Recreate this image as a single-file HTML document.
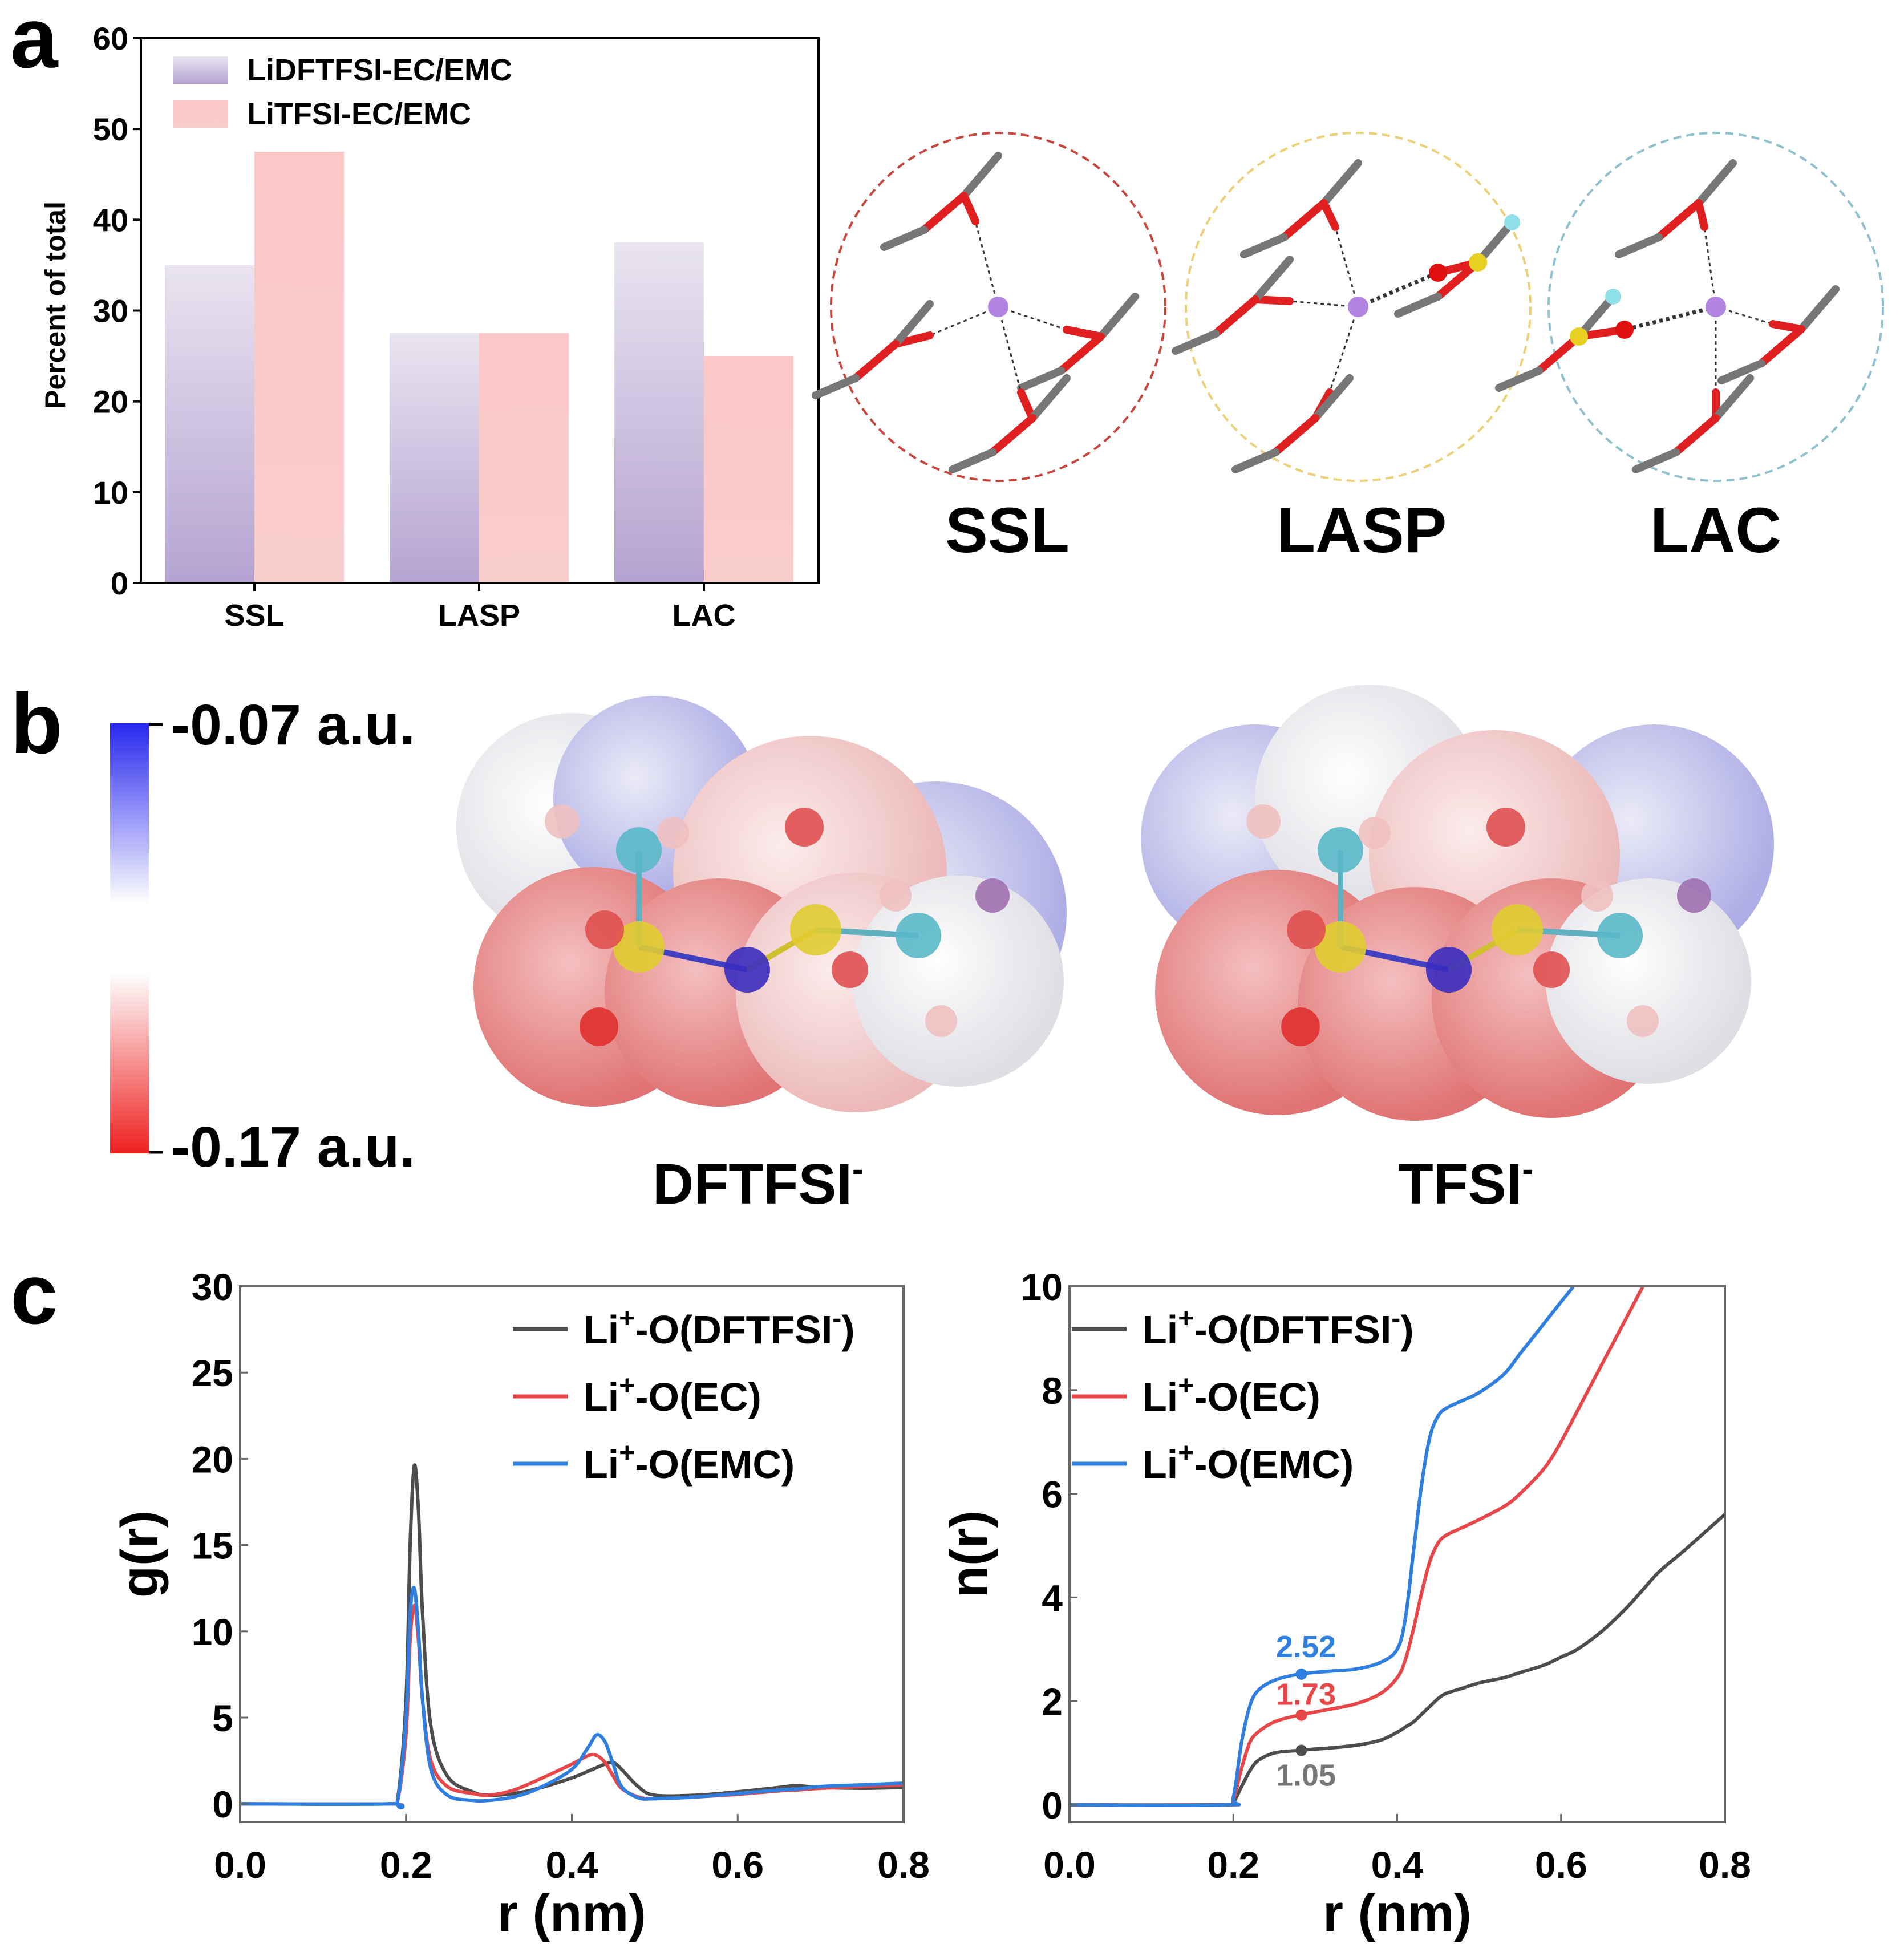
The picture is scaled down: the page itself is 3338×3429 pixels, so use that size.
<!DOCTYPE html>
<html><head><meta charset="utf-8"><style>
html,body{margin:0;padding:0;background:#fff}
svg{display:block}
text{font-family:"Liberation Sans",sans-serif;font-weight:bold}
</style></head><body>
<svg id="fig" width="3338" height="3429" viewBox="0 0 3338 3429" xmlns="http://www.w3.org/2000/svg">
<defs>
<linearGradient id="gPur" x1="0" y1="0" x2="0" y2="1"><stop offset="0" stop-color="#e9e4f0"/><stop offset="1" stop-color="#b4a3d1"/></linearGradient>
<linearGradient id="gPink" x1="0" y1="0" x2="0" y2="1"><stop offset="0" stop-color="#fbc7c7"/><stop offset="1" stop-color="#f9cccc"/></linearGradient>
<linearGradient id="gCbar" x1="0" y1="0" x2="0" y2="1"><stop offset="0" stop-color="#2828f0"/><stop offset="0.42" stop-color="#ffffff"/><stop offset="0.58" stop-color="#ffffff"/><stop offset="1" stop-color="#f02020"/></linearGradient>
<radialGradient id="sRed" cx="0.4" cy="0.4" r="0.6"><stop offset="0" stop-color="#f2b0b0"/><stop offset="1" stop-color="#d85050"/></radialGradient>
<radialGradient id="sPinkS" cx="0.4" cy="0.4" r="0.6"><stop offset="0" stop-color="#fbe8e8"/><stop offset="1" stop-color="#e8a8a8"/></radialGradient>
<radialGradient id="sWhite" cx="0.4" cy="0.4" r="0.6"><stop offset="0" stop-color="#ffffff"/><stop offset="1" stop-color="#d6d6de"/></radialGradient>
<radialGradient id="sBlue" cx="0.4" cy="0.4" r="0.6"><stop offset="0" stop-color="#e6e6f6"/><stop offset="1" stop-color="#9a9ae0"/></radialGradient>
</defs>

<!-- Panel a -->
<text x="18" y="118" font-size="150">a</text>
<g id="barChart"></g>

<!-- solvation circles -->
<g>
 <ellipse cx="1750" cy="538" rx="293" ry="305" fill="none" stroke="#c8453c" stroke-width="4" stroke-dasharray="14 9"/>
 <ellipse cx="2381" cy="538" rx="302" ry="305" fill="none" stroke="#ecd07a" stroke-width="4" stroke-dasharray="14 9"/>
 <ellipse cx="3008" cy="538" rx="293" ry="305" fill="none" stroke="#8fc0cf" stroke-width="4" stroke-dasharray="14 9"/>
 <g id="mols"></g>
 <text x="1766" y="968" font-size="112" text-anchor="middle">SSL</text>
 <text x="2387" y="968" font-size="112" text-anchor="middle">LASP</text>
 <text x="3008" y="968" font-size="112" text-anchor="middle">LAC</text>
</g>

<!-- Panel b -->
<text x="18" y="1320" font-size="150">b</text>
<g>
 <rect x="193" y="1268" width="68" height="754" fill="url(#gCbar)"/>
 <line x1="261" y1="1270" x2="285" y2="1270" stroke="#000" stroke-width="5"/>
 <line x1="261" y1="2020" x2="285" y2="2020" stroke="#000" stroke-width="5"/>
 <text x="300" y="1305" font-size="100">-0.07 a.u.</text>
 <text x="300" y="2045" font-size="100">-0.17 a.u.</text>
</g>
<g opacity="0.8">
 <circle cx="1000" cy="1450" r="200" fill="url(#sWhite)"/>
 <circle cx="1150" cy="1400" r="180" fill="url(#sBlue)"/>
 <circle cx="1640" cy="1600" r="230" fill="url(#sBlue)"/>
 <circle cx="1420" cy="1530" r="240" fill="url(#sPinkS)"/>
 <circle cx="1040" cy="1730" r="210" fill="url(#sRed)"/>
 <circle cx="1260" cy="1740" r="200" fill="url(#sRed)"/>
 <circle cx="1500" cy="1740" r="210" fill="url(#sPinkS)"/>
 <circle cx="1680" cy="1720" r="185" fill="url(#sWhite)"/>
</g>
<g opacity="0.8">
 <circle cx="2200" cy="1470" r="200" fill="url(#sBlue)"/>
 <circle cx="2400" cy="1400" r="200" fill="url(#sWhite)"/>
 <circle cx="2900" cy="1480" r="210" fill="url(#sBlue)"/>
 <circle cx="2620" cy="1500" r="220" fill="url(#sPinkS)"/>
 <circle cx="2240" cy="1740" r="215" fill="url(#sRed)"/>
 <circle cx="2480" cy="1760" r="205" fill="url(#sRed)"/>
 <circle cx="2720" cy="1750" r="210" fill="url(#sRed)"/>
 <circle cx="2890" cy="1720" r="180" fill="url(#sWhite)"/>
</g>
<g id="atomsB"></g>
<text x="1329" y="2110" font-size="100" text-anchor="middle">DFTFSI<tspan font-size="60" dy="-40">-</tspan></text>
<text x="2570" y="2110" font-size="100" text-anchor="middle">TFSI<tspan font-size="60" dy="-40">-</tspan></text>

<!-- Panel c -->
<text x="18" y="2320" font-size="150">c</text>
<g id="gChart"></g>
<g id="nChart"></g>
</svg>
<script>
// ---------- Panel a data ----------
const barCategories = ["SSL","LASP","LAC"];
const lidftfsiValues = [35, 27.5, 37.5];
const litfsiValues = [47.5, 27.5, 25];
const barTicks = [0,10,20,30,40,50,60];

// ---------- Panel c data ----------
const gR_r   = [0,0.18,0.19,0.2,0.205,0.21,0.215,0.22,0.23,0.25,0.28,0.3,0.33,0.36,0.4,0.42,0.43,0.44,0.45,0.46,0.48,0.5,0.55,0.6,0.65,0.67,0.7,0.75,0.8];
const gDFT   = [0,0,0.3,6,15,19.6,17,11,4.5,1.6,0.7,0.5,0.6,0.9,1.5,1.9,2.1,2.3,2.4,2.0,1.0,0.5,0.5,0.7,0.95,1.05,0.95,0.9,0.95];
const gEC    = [0,0,0.2,4,9.5,11.5,9.5,6,2.5,1.0,0.6,0.5,0.8,1.4,2.3,2.8,2.8,2.4,1.6,0.9,0.4,0.3,0.4,0.55,0.75,0.8,0.9,1.0,1.1];
const gEMC   = [0,0,0.2,5,11,12.5,10,6,2.0,0.5,0.2,0.2,0.4,0.9,2.0,3.3,4.0,3.6,2.3,1.0,0.35,0.3,0.4,0.6,0.8,0.85,1.0,1.1,1.2];

const nR_r   = [0,0.19,0.2,0.21,0.22,0.23,0.25,0.28,0.32,0.35,0.38,0.4,0.41,0.42,0.43,0.44,0.45,0.46,0.48,0.5,0.53,0.55,0.58,0.6,0.62,0.65,0.68,0.7,0.72,0.75,0.8];
const nDFT   = [0,0,0.05,0.35,0.65,0.85,1.0,1.05,1.1,1.15,1.25,1.4,1.5,1.6,1.75,1.9,2.05,2.15,2.25,2.35,2.45,2.55,2.7,2.85,3.0,3.35,3.8,4.15,4.5,4.9,5.6];
const nEC    = [0,0,0.1,0.7,1.2,1.4,1.6,1.73,1.85,1.95,2.15,2.45,2.8,3.4,4.1,4.7,5.05,5.2,5.35,5.5,5.75,6.0,6.5,7.0,7.6,8.5,9.4,10.0,10.6,11.5,13];
const nEMC   = [0,0,0.15,1.2,1.9,2.2,2.4,2.52,2.58,2.62,2.75,3.0,3.6,4.9,6.2,7.1,7.5,7.65,7.8,7.95,8.3,8.7,9.3,9.7,10.1,10.8,11.5,12,12.5,13,14];

const xTicks = [0,0.2,0.4,0.6,0.8];
const xTickLabels = ["0.0","0.2","0.4","0.6","0.8"];
const gTicks = [0,5,10,15,20,25,30];
const nTicks = [0,2,4,6,8,10];
const legendLabels = ["O(DFTFSI","O(EC)","O(EMC)"];
const seriesColors = ["#4d4d4d","#e8474a","#2f7fe0"];
const annotValues = [1.05,1.73,2.52];
const annotR = 0.283;

const NS="http://www.w3.org/2000/svg";
function mk(tag, attrs, parent){const e=document.createElementNS(NS,tag);for(const k in attrs)e.setAttribute(k,attrs[k]);(parent||document.getElementById('fig')).appendChild(e);return e;}

// ---------- Bar chart ----------
(function(){
 const g=document.getElementById('barChart');
 const L=247,R=1435,T=67,B=1022;
 const y=v=>B-(v/60)*(B-T);
 const cx=i=>446+i*394;
 const bw=157;
 barCategories.forEach((c,i)=>{
  const b1=mk('rect',{x:cx(i)-bw,y:y(lidftfsiValues[i]),width:bw,height:B-y(lidftfsiValues[i]),fill:'url(#gPur)'},g);
  
  
  const b2=mk('rect',{x:cx(i),y:y(litfsiValues[i]),width:bw,height:B-y(litfsiValues[i]),fill:'url(#gPink)'},g);
  
  
  mk('line',{x1:cx(i),y1:B,x2:cx(i),y2:B+14,stroke:'#000','stroke-width':4},g);
  const t=mk('text',{x:cx(i),y:B+75,'font-size':54,'text-anchor':'middle'},g);
  t.textContent=c;
  
  
 });
 const fr=mk('rect',{x:L,y:T,width:R-L,height:B-T,fill:'none',stroke:'#000','stroke-width':4},g);
 
 
 barTicks.forEach(v=>{
  mk('line',{x1:L-14,y1:y(v),x2:L,y2:y(v),stroke:'#000','stroke-width':4},g);
  const t=mk('text',{x:L-22,y:y(v)+20,'font-size':56,'text-anchor':'end'},g);
  t.textContent=v;
  
  
 });
 const yt=mk('text',{x:0,y:0,'font-size':50,'text-anchor':'middle',transform:'translate(114,535) rotate(-90)'},g);
 yt.textContent='Percent of total';
 
 
 [['url(#gPur)','LiDFTFSI-EC/EMC',99],['url(#gPink)','LiTFSI-EC/EMC',176]].forEach((d,i)=>{
  const s=mk('rect',{x:304,y:d[2],width:96,height:48,fill:d[0]},g);
  
  
  const t=mk('text',{x:433,y:d[2]+42,'font-size':54},g);
  t.textContent=d[1];
  
  
 });
})();

// ---------- Molecule sketches (panel a) ----------
(function(){
 const g=document.getElementById('mols');
 function stick(x1,y1,x2,y2,c){mk('line',{x1,y1,x2,y2,stroke:c||'#777','stroke-width':14,'stroke-linecap':'round'},g);}
 function atom(x,y,r,c){mk('circle',{cx:x,cy:y,r,fill:c},g);}
 function dash(x1,y1,x2,y2,w){mk('line',{x1,y1,x2,y2,stroke:'#333','stroke-width':w||3,'stroke-dasharray':'6 6'},g);}
 const centers=[[1750,538],[2381,538],[3008,538]];
 const arms=[[[-40,-150],[120,40],[40,150],[-120,50]],[[-40,-140],[-120,-10],[-50,150],[140,-60]],[[-20,-140],[-160,40],[100,30],[0,150]]];
 centers.forEach((c,k)=>{
  arms[k].forEach((a,j)=>{
   const ex=c[0]+a[0],ey=c[1]+a[1];
   dash(c[0],c[1],ex,ey,(k>0&&j===(k===1?3:1))?7:3);
   stick(ex,ey,ex+a[0]*0.5,ey+a[1]*0.3,'#e02020');
   stick(ex+a[0]*0.5,ey+a[1]*0.3,ex+a[0]*0.5+60,ey+a[1]*0.3-70);
   stick(ex+a[0]*0.5,ey+a[1]*0.3,ex+a[0]*0.5-70,ey+a[1]*0.3+60,'#e02020');
   stick(ex+a[0]*0.5-70,ey+a[1]*0.3+60,ex+a[0]*0.5-140,ey+a[1]*0.3+90);
   if(k>0&&j===(k===1?3:1)){atom(ex,ey,16,'#e01010');atom(ex+a[0]*0.5,ey+a[1]*0.3,16,'#e8d020');atom(ex+a[0]*0.5+60,ey+a[1]*0.3-70,14,'#8fe0e8');}
  });
  atom(c[0],c[1],18,'#b084e0');
 });
})();

// ---------- ESP atoms (panel b) ----------
(function(){
 const g=document.getElementById('atomsB');
 function a(x,y,r,c){mk('circle',{cx:x,cy:y,r,fill:c,opacity:0.9},g);}
 function s(x1,y1,x2,y2,c){mk('line',{x1,y1,x2,y2,stroke:c,'stroke-width':10},g);}
 [[0,'d'],[1230,'t']].forEach(([dx])=>{
  s(1120+dx,1660,1310+dx,1700,'#4040c0');s(1310+dx,1700,1430+dx,1630,'#d0c030');
  s(1120+dx,1660,1120+dx,1490,'#60b0c0');s(1430+dx,1630,1610+dx,1640,'#60b0c0');
  a(1120+dx,1490,40,'#5ab8c8');a(1610+dx,1640,40,'#5ab8c8');
  a(1120+dx,1660,45,'#e0cc30');a(1430+dx,1630,45,'#e0cc30');
  a(1310+dx,1700,40,'#3a2cc0');
  a(1050+dx,1800,34,'#e03030');a(1060+dx,1630,34,'#e05050');a(1410+dx,1450,34,'#e05050');a(1490+dx,1700,32,'#e05050');
  a(985+dx,1440,30,'#f0c0c0');a(1180+dx,1460,28,'#f0c0c0');a(1570+dx,1570,28,'#f0c0c0');a(1650+dx,1790,28,'#f0c0c0');a(1740+dx,1570,30,'#a070b0');
 });
})();

// ---------- Line charts ----------
function curve(pts){
 let d='M'+pts[0][0]+','+pts[0][1];
 for(let i=0;i<pts.length-1;i++){
  const p0=pts[Math.max(0,i-1)],p1=pts[i],p2=pts[i+1],p3=pts[Math.min(pts.length-1,i+2)];
  const c1x=p1[0]+(p2[0]-p0[0])/6,c1y=p1[1]+(p2[1]-p0[1])/6;
  const c2x=p2[0]-(p3[0]-p1[0])/6,c2y=p2[1]-(p3[1]-p1[1])/6;
  d+=' C'+c1x.toFixed(1)+','+c1y.toFixed(1)+' '+c2x.toFixed(1)+','+c2y.toFixed(1)+' '+p2[0].toFixed(1)+','+p2[1].toFixed(1);
 }
 return d;
}
function lineChart(gid,L,R,T,B,yMin,yMax,ticks,rArr,series,yTitle,legX,annot){
 const g=document.getElementById(gid);
 const x=v=>L+(v/0.8)*(R-L);
 const y=v=>B-((v-yMin)/(yMax-yMin))*(B-T);
 const cp=mk('clipPath',{id:gid+'clip'},g);
 mk('rect',{x:L,y:T,width:R-L,height:B-T},cp);
 const sg=mk('g',{'clip-path':'url(#'+gid+'clip)'},g);
 series.forEach((s,i)=>{
  const p=mk('path',{d:curve(rArr.map((r,j)=>[x(r),y(s[j])])),fill:'none',stroke:seriesColors[i],'stroke-width':6},sg);
  
  
 });
 const fr=mk('rect',{x:L,y:T,width:R-L,height:B-T,fill:'none',stroke:'#666','stroke-width':4},g);
 
 
 xTicks.forEach((v,i)=>{
  mk('line',{x1:x(v),y1:B,x2:x(v),y2:B-14,stroke:'#666','stroke-width':3},g);
  const t=mk('text',{x:x(v),y:B+98,'font-size':66,'text-anchor':'middle'},g);
  t.textContent=xTickLabels[i];
  
  
 });
 ticks.forEach(v=>{
  mk('line',{x1:L,y1:y(v),x2:L+14,y2:y(v),stroke:'#666','stroke-width':3},g);
  const t=mk('text',{x:L-12,y:y(v)+24,'font-size':66,'text-anchor':'end'},g);
  t.textContent=v;
  
  
 });
 const xt=mk('text',{x:(L+R)/2,y:3385,'font-size':92,'text-anchor':'middle'},g);
 xt.textContent='r (nm)';
 
 
 const yt=mk('text',{x:0,y:0,'font-size':92,'text-anchor':'middle',transform:'translate('+(L-145)+','+((T+B)/2)+') rotate(-90)'},g);
 yt.textContent=yTitle;
 
 
 const rows=[2330,2448,2566];
 legendLabels.forEach((lab,i)=>{
  const ln=mk('line',{x1:legX,y1:rows[i],x2:legX+96,y2:rows[i],stroke:seriesColors[i],'stroke-width':7},g);
  
  
  const t=mk('text',{x:legX+124,y:rows[i]+25,'font-size':70},g);
  t.innerHTML='Li<tspan font-size="48" dy="-28">+</tspan><tspan dy="28">-'+lab+'</tspan>'+(i===0?'<tspan font-size="48" dy="-28">-</tspan><tspan dy="28">)</tspan>':'');
  
  
 });
 if(annot){
  annotValues.forEach((v,i)=>{
   const c=mk('circle',{cx:x(annotR),cy:y(v),r:10,fill:seriesColors[i]},g);
   
   
   const off=i===0?62:(i===1?-18:-30);
   const t=mk('text',{x:x(annotR)+8,y:y(v)+off,'font-size':54,'text-anchor':'middle',fill:i===0?'#777':seriesColors[i]},g);
   t.textContent=v.toFixed(2);
   
   
  });
 }
}
lineChart('gChart',421,1584,2255,3194,-1.05,30,gTicks,gR_r,[gDFT,gEC,gEMC],'g(r)',899,false);
lineChart('nChart',1875,3024,2255,3194,-0.33,10,nTicks,nR_r,[nDFT,nEC,nEMC],'n(r)',1879,true);
</script>
</body></html>
